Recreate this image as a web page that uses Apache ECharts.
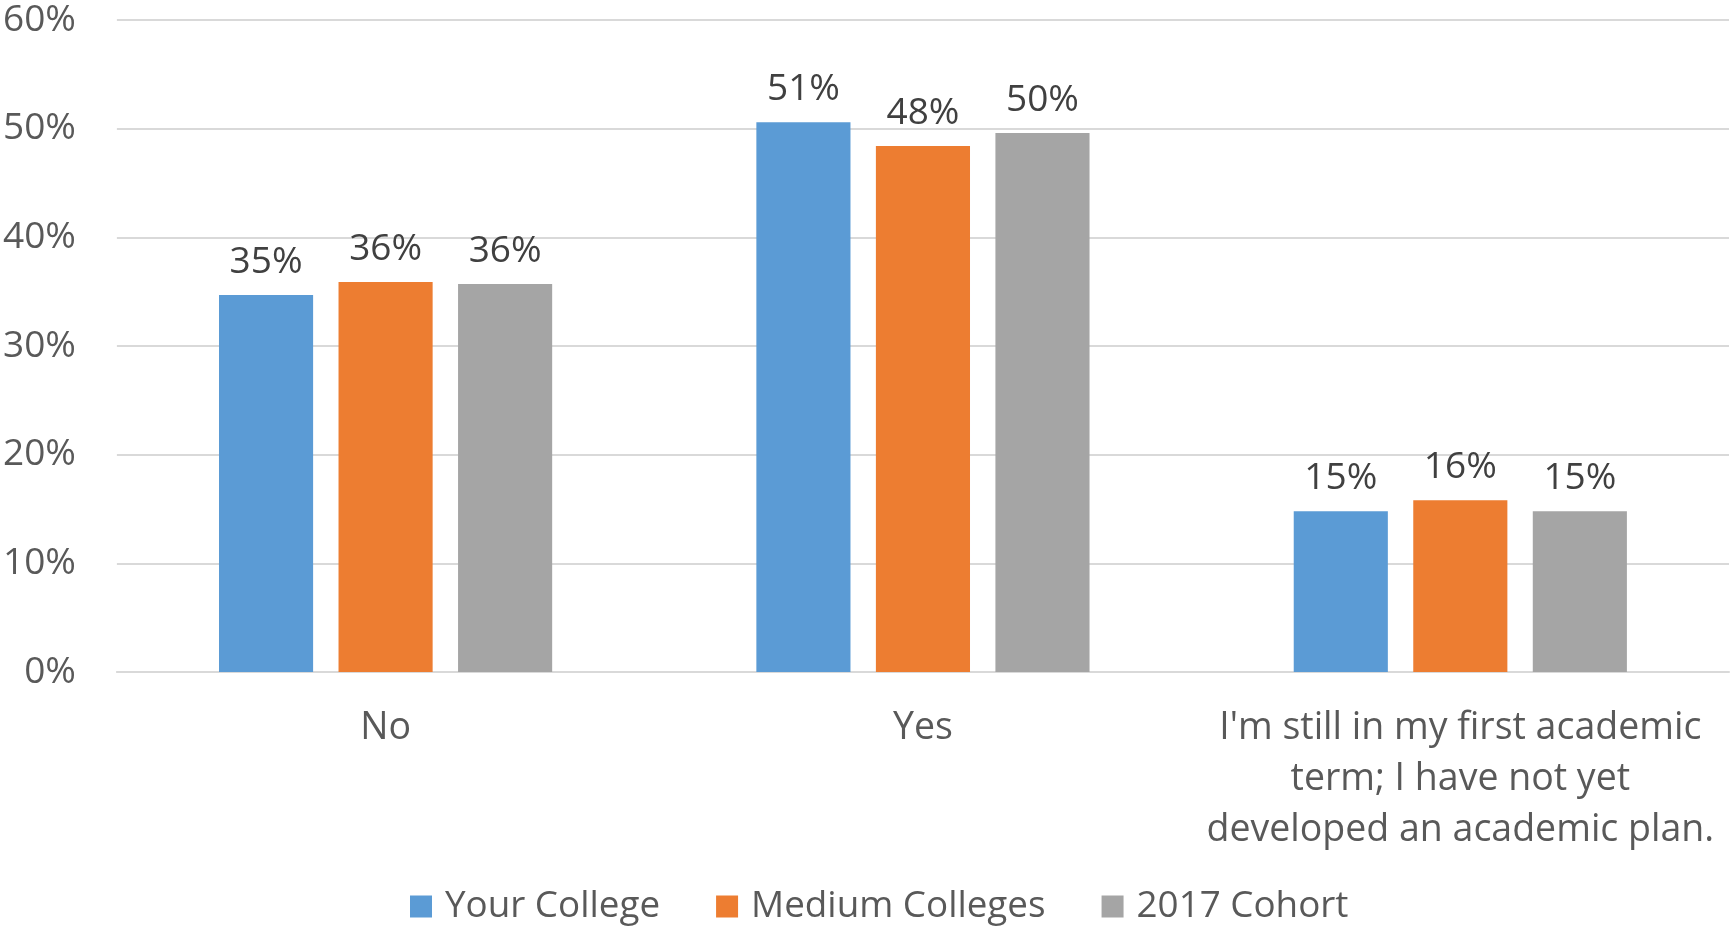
<!DOCTYPE html>
<html>
<head>
<meta charset="utf-8">
<script src="https://cdn.jsdelivr.net/npm/echarts@6/dist/echarts.min.js"></script>
<style>
  html, body { margin: 0; padding: 0; background: #fff; }
  #chart { width: 1732px; height: 928px; }
</style>
</head>
<body>
<div id="chart"></div>
<script>
    // 数据
    let categories = ['No', 'Yes', "I'm still in my first academic\nterm; I have not yet\ndeveloped an academic plan."]
    let seriesNames = ['Your College', 'Medium Colleges', '2017 Cohort']
    let yourCollege = [34.7, 50.6, 14.8]
    let mediumColleges = [35.9, 48.4, 15.8]
    let cohort2017 = [35.7, 49.6, 14.8]
    let colors = ['#5B9BD5', '#ED7D31', '#A5A5A5']

    let font = '"Open Sans", Calibri, sans-serif'

    function makeBar(name, data, color) {
        return {
            name: name,
            type: 'bar',
            data: data,
            barGap: '27%',
            barCategoryGap: '38%',
            itemStyle: { color: color },
            label: {
                show: true,
                position: 'top',
                distance: 14,
                fontFamily: font,
                fontSize: 37,
                color: '#404040',
                formatter: function (p) { return Math.round(p.value) + '%' }
            }
        }
    }

    var myChart = echarts.init(document.getElementById('chart'))

    var option = {
        animation: false,
        grid: { left: 115, right: 3, top: 20, bottom: 256 },
        legend: {
            data: seriesNames,
            left: 405,
            top: 883,
            itemWidth: 22,
            itemHeight: 22,
            itemGap: 56,
            icon: 'rect',
            textStyle: {
                fontFamily: font,
                fontSize: 36.8,
                color: '#595959',
                padding: [0, 0, 0, 8]
            }
        },
        xAxis: {
            type: 'category',
            data: categories,
            axisLine: { show: true, lineStyle: { color: '#d9d9d9', width: 2 } },
            axisTick: { show: false },
            axisLabel: {
                fontFamily: font,
                fontSize: 37.5,
                lineHeight: 51,
                color: '#595959',
                margin: 31,
                interval: 0
            }
        },
        yAxis: {
            type: 'value',
            min: 0,
            max: 60,
            interval: 10,
            axisLine: { show: false },
            axisTick: { show: false },
            splitLine: { lineStyle: { color: '#d9d9d9', width: 2 } },
            axisLabel: {
                fontFamily: font,
                fontSize: 37,
                color: '#595959',
                margin: 41,
                formatter: '{value}%'
            }
        },
        series: [
            makeBar(seriesNames[0], yourCollege, colors[0]),
            makeBar(seriesNames[1], mediumColleges, colors[1]),
            makeBar(seriesNames[2], cohort2017, colors[2])
        ]
    }

    myChart.setOption(option)
</script>
</body>
</html>
